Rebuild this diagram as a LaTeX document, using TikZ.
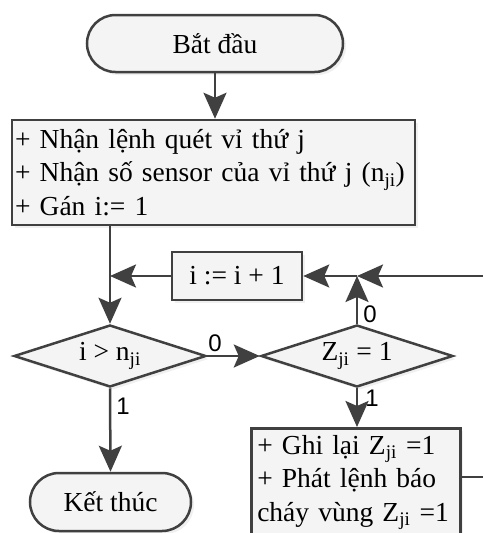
\documentclass[tikz,border=0pt]{standalone}
\usepackage{fontspec}
\setmainfont{Liberation Serif}
\newfontfamily\lblfont{Liberation Sans}
\usetikzlibrary{shapes.geometric,shapes.misc,arrows.meta,shadows}
\definecolor{lc}{HTML}{404040}
\definecolor{fc}{HTML}{F4F4F4}
\begin{document}
\begin{tikzpicture}[x=1pt,y=1pt,
  every node/.style={font=\fontsize{27.5}{33.5}\selectfont},
  base/.style={draw=lc, line width=2.5pt, fill=fc,
    drop shadow={shadow xshift=3pt, shadow yshift=-3pt, opacity=0.12}},
  term/.style={base, rounded rectangle, minimum width=256, minimum height=57, inner sep=0pt},
  proc/.style={base, rectangle, inner sep=3pt},
  dec/.style={base, diamond, minimum width=192, minimum height=62, inner sep=0pt, shape aspect=3},
  lnk/.style={draw=lc, line width=2.5pt, -{Stealth[length=26pt,width=23pt,inset=5pt]}},
  plain/.style={draw=lc, line width=2.5pt},
  lbl/.style={font=\lblfont\fontsize{24}{24}\selectfont, inner sep=1pt, text=black}
]
\useasboundingbox (0,0) rectangle (483,-533);
\clip (0,0) rectangle (483,-533);

\node[term] (start) at (215,-43.5) {Bắt đầu};
\node[proc, minimum width=403, minimum height=105, text width=397, align=left, inner xsep=3pt] (init) at (213.5,-172.5)
  {+ Nhận lệnh quét vỉ thứ j\\+ Nhận số sensor của vỉ thứ j (n\textsubscript{ji})\\+ Gán i:= 1};
\node[proc, minimum width=130, minimum height=48] (inc) at (237,-276) {i := i + 1};
\node[dec] (d1) at (110,-356) {i > n\textsubscript{ji}};
\node[dec] (d2) at (357,-356) {Z\textsubscript{ji} = 1};
\node[term, minimum width=161, minimum height=58] (end) at (110.5,-502) {Kết thúc};
\node[proc, anchor=north west, text width=197, inner xsep=6pt, inner ysep=7pt, align=left] (rec) at (250,-427)
  {+ Ghi lại Z\textsubscript{ji} =1\\+ Phát lệnh báo\\cháy vùng Z\textsubscript{ji} =1};

\coordinate (j2) at (d2.north |- inc.east);
\coordinate (rin) at (483,-276);
\coordinate (rout) at (483,-477);

\draw[lnk] (start.south) -- (start.south |- init.north);
\draw[lnk] (d1.north |- init.south) -- (d1.north);
\draw[lnk] (inc.west) -- (inc.west -| d1.north);
\draw[lnk] (d1.east) -- node[lbl, pos=0.15, above=2pt] {0} (d2.west);
\draw[lnk] (d1.south) -- node[lbl, pos=0.21, right=4pt] {1} (end.north);
\draw[lnk] (d2.north) -- node[lbl, pos=0.2, right=4pt] {0} (j2);
\draw[lnk] (d2.south) -- node[lbl, pos=0.25, right=6pt] {1} (rec.north -| d2.south);
\draw[lnk] (rin) -- (j2);
\draw[lnk] (j2) -- (inc.east);
\draw[plain] (rec.east |- rout) -- (rout);
\end{tikzpicture}
\end{document}
